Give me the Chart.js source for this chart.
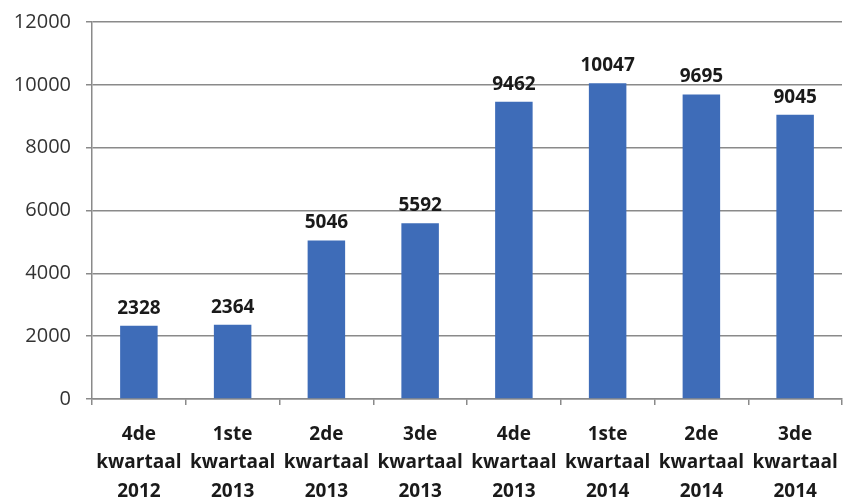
<!DOCTYPE html>
<html>
<head>
<meta charset="utf-8">
<script src="https://cdn.jsdelivr.net/npm/chart.js@4"></script>
<style>
  html, body { margin: 0; padding: 0; background: #fff; }
  #wrap { width: 844px; height: 499px; }
</style>
</head>
<body>
<div id="wrap"><canvas id="chart"></canvas></div>
<script>
const quarters = [
  ["4de", "kwartaal", "2012"],
  ["1ste", "kwartaal", "2013"],
  ["2de", "kwartaal", "2013"],
  ["3de", "kwartaal", "2013"],
  ["4de", "kwartaal", "2013"],
  ["1ste", "kwartaal", "2014"],
  ["2de", "kwartaal", "2014"],
  ["3de", "kwartaal", "2014"],
];
const counts = [2328, 2364, 5046, 5592, 9462, 10047, 9695, 9045];
const yTicks = [0, 2000, 4000, 6000, 8000, 10000, 12000];

const FONT = "'Open Sans', 'Liberation Sans', sans-serif";

// draw the value above each bar
const valueLabels = {
  id: "valueLabels",
  afterDatasetsDraw(chart) {
    const ctx = chart.ctx;
    const meta = chart.getDatasetMeta(0);
    ctx.save();
    ctx.font = "bold 19px " + FONT;
    ctx.fillStyle = "#1a1a1a";
    ctx.textAlign = "center";
    ctx.textBaseline = "bottom";
    meta.data.forEach((bar, i) => {
      ctx.fillText(String(counts[i]), bar.x, bar.y - 8);
    });
    ctx.restore();
  },
};

new Chart(document.getElementById("chart"), {
  type: "bar",
  data: {
    labels: quarters,
    datasets: [
      {
        data: counts,
        backgroundColor: "#3e6cb8",
        categoryPercentage: 1,
        barPercentage: 0.4,
      },
    ],
  },
  options: {
    responsive: true,
    maintainAspectRatio: false,
    animation: false,
    layout: { padding: { top: 22, right: 2, left: 0, bottom: 0 } },
    plugins: {
      legend: { display: false },
      tooltip: { enabled: false },
    },
    scales: {
      x: {
        grid: {
          display: true,
          drawOnChartArea: false,
          offset: true,
          tickLength: 6,
          color: "#8a8a8a",
          lineWidth: 1.5,
        },
        border: { color: "#8a8a8a", width: 1.5 },
        ticks: {
          color: "#1a1a1a",
          font: { family: FONT, size: 19, weight: "bold", lineHeight: 1.5 },
          padding: 15,
          maxRotation: 0,
          autoSkip: false,
        },
        afterFit: (s) => {
          s.height = 100;
          s.paddingLeft = 0;
          s.paddingRight = 0;
        },
      },
      y: {
        min: 0,
        max: 12000,
        afterBuildTicks: (s) => { s.ticks = yTicks.map((v) => ({ value: v })); },
        grid: { color: "#8a8a8a", lineWidth: 1.5, tickLength: 6 },
        border: { color: "#8a8a8a", width: 1.5 },
        ticks: {
          color: "#333333",
          font: { family: FONT, size: 20 },
          padding: 15,
          callback: (v) => String(v),
        },
        afterFit: (s) => {
          s.width = 92;
          s.paddingTop = 0;
          s.paddingBottom = 0;
        },
      },
    },
  },
  plugins: [valueLabels],
});
</script>
</body>
</html>
